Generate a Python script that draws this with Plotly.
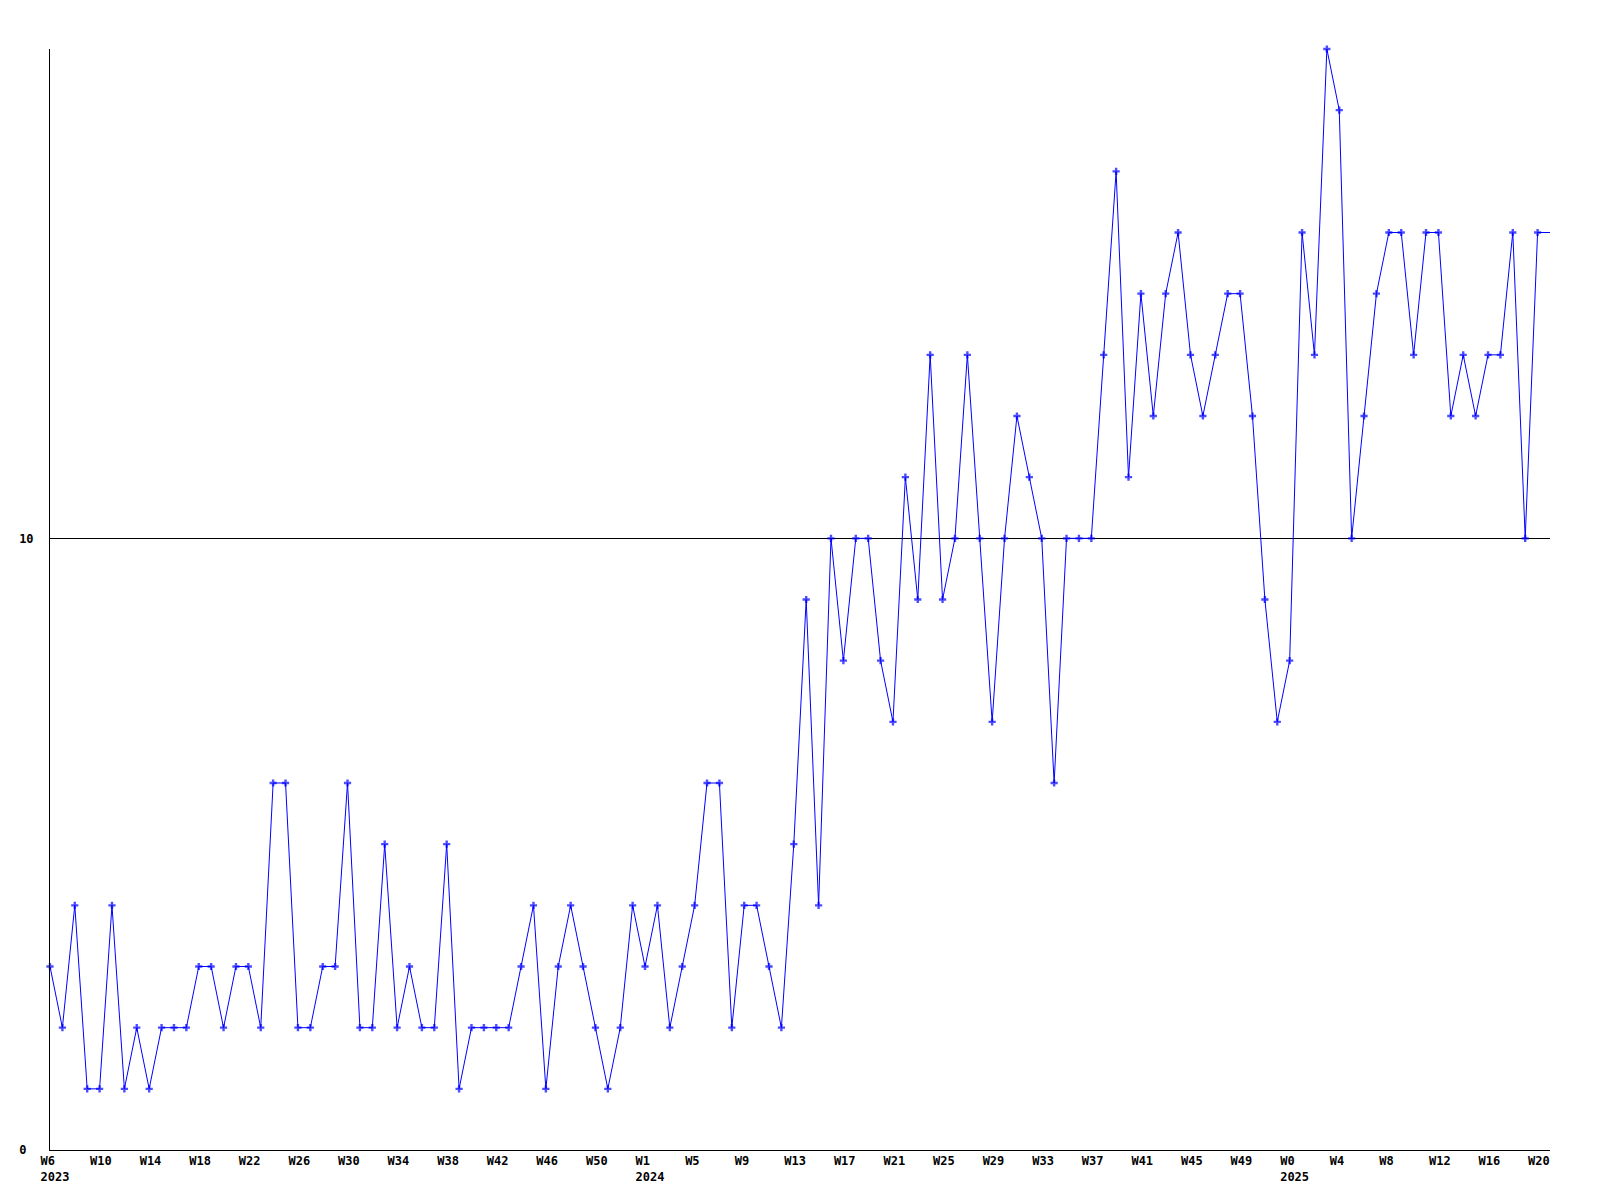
import plotly.graph_objects as go

# Week categories (2023 W6 .. 2025 W21)
weeks_2023 = [f"2023-W{w}" for w in range(6, 54)]
weeks_2024 = [f"2024-W{w}" for w in range(1, 53)]
weeks_2025 = [f"2025-W{w}" for w in range(0, 22)]
categories = weeks_2023 + weeks_2024 + weeks_2025

values_2023 = [3, 2, 4, 1, 1, 4, 1, 2, 1, 2,
               2, 2, 3, 3, 2, 3, 3, 2, 6, 6,
               2, 2, 3, 3, 6, 2, 2, 5, 2, 3,
               2, 2, 5, 1, 2, 2, 2, 2, 3, 4,
               1, 3, 4, 3, 2, 1, 2, 4]
values_2024 = [3, 4, 2, 3, 4, 6, 6, 2, 4, 4,
               3, 2, 5, 9, 4, 10, 8, 10, 10, 8,
               7, 11, 9, 13, 9, 10, 13, 10, 7, 10,
               12, 11, 10, 6, 10, 10, 10, 13, 16, 11,
               14, 12, 14, 15, 13, 12, 13, 14, 14, 12,
               9, 7]
values_2025 = [8, 15, 13, 18, 17, 10, 12, 14, 15, 15,
               13, 15, 15, 12, 13, 12, 13, 13, 15, 10,
               15, 15]
values = values_2023 + values_2024 + values_2025

tick_weeks = ["2023-W6", "2023-W10", "2023-W14", "2023-W18", "2023-W22", "2023-W26",
              "2023-W30", "2023-W34", "2023-W38", "2023-W42", "2023-W46", "2023-W50",
              "2024-W1", "2024-W5", "2024-W9", "2024-W13", "2024-W17", "2024-W21",
              "2024-W25", "2024-W29", "2024-W33", "2024-W37", "2024-W41", "2024-W45",
              "2024-W49", "2025-W0", "2025-W4", "2025-W8", "2025-W12", "2025-W16",
              "2025-W20"]
tick_text = ["W6<br>2023", "W10", "W14", "W18", "W22", "W26",
             "W30", "W34", "W38", "W42", "W46", "W50",
             "W1<br>2024", "W5", "W9", "W13", "W17", "W21",
             "W25", "W29", "W33", "W37", "W41", "W45",
             "W49", "W0<br>2025", "W4", "W8", "W12", "W16",
             "W20"]

y_tickvals = [0, 10]
y_ticktext = ["0\u00a0", "10"]

marker_sizes = [6] * (len(values) - 1) + [0]

FONT = "DejaVu Sans Mono"

fig = go.Figure()
fig.add_trace(go.Scatter(
    x=categories, y=values, mode="lines+markers",
    line=dict(color="#0000ff", width=1),
    marker=dict(symbol="cross", size=marker_sizes, color="#0000ff", line=dict(width=0)),
    cliponaxis=False, showlegend=False, hoverinfo="x+y",
))

fig.update_layout(
    width=1600, height=1200,
    margin=dict(l=50, r=50, t=49, b=50),
    paper_bgcolor="white", plot_bgcolor="white",
    font=dict(family=FONT, size=12, color="black"),
    xaxis=dict(
        type="category", categoryorder="array", categoryarray=categories,
        range=[0, len(categories) - 1],
        tickmode="array", tickvals=tick_weeks, ticktext=tick_text,
        ticks="", showgrid=False, zeroline=False,
        showline=True, linecolor="black", linewidth=1,
        tickfont=dict(family=FONT, size=12, color="black", weight="bold"),
        ticklabelposition="outside right", ticklabelshift=-10,
        tickangle=0,
    ),
    yaxis=dict(
        range=[0, 18],
        tickmode="array", tickvals=y_tickvals, ticktext=y_ticktext,
        ticks="", showgrid=True, gridcolor="black", gridwidth=1,
        zeroline=False, showline=True, linecolor="black", linewidth=1,
        tickfont=dict(family=FONT, size=12, color="black", weight="bold"),
        ticklabelstandoff=13,
    ),
)

fig.write_html("out.html", config={"displayModeBar": False},
               post_script="document.body.style.margin='0';")
